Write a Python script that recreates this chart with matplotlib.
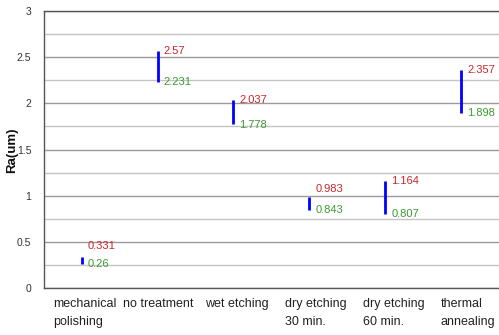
import matplotlib
matplotlib.use("Agg")
import matplotlib.pyplot as plt
from matplotlib.ticker import MultipleLocator

categories = ["mechanical\npolishing", "no treatment", "wet etching",
              "dry etching\n30 min.", "dry etching\n60 min.", "thermal\nannealing"]
low_vals = [0.26, 2.231, 1.778, 0.843, 0.807, 1.898]
high_vals = [0.331, 2.57, 2.037, 0.983, 1.164, 2.357]
y_ticks = [0, 0.5, 1, 1.5, 2, 2.5, 3]
y_tick_labels = ["0", "0.5", "1", "1.5", "2", "2.5", "3"]

# label vertical offsets (points) to avoid overlap
high_off = [8, 0, 0, 6, 0, 0]
low_off = [0, 0, -1, 0, 0, 0]
# horizontal shift of category labels (pixels)
xlab_shift = [3, 1, 3, 7, 9, 7]

plt.rcParams['font.family'] = ['Liberation Sans', 'DejaVu Sans']

fig = plt.figure(figsize=(4.99, 3.35), dpi=100)
ax = fig.add_axes([0.0876, 0.1403, 0.9124, 0.8267])

x = list(range(len(categories)))
ax.vlines(x, low_vals, high_vals, colors='#0000ff', linewidth=2.0, zorder=3)

for i in x:
    ax.annotate(str(high_vals[i]), (i, high_vals[i]), xytext=(4.3, high_off[i]),
                textcoords='offset points', color='#c8262b', fontsize=8,
                ha='left', va='center')
    ax.annotate(str(low_vals[i]), (i, low_vals[i]), xytext=(4.3, low_off[i]),
                textcoords='offset points', color='#3c9a32', fontsize=8,
                ha='left', va='center')

ax.set_xlim(-0.5, len(categories) - 0.5)
ax.set_ylim(0, 3)
ax.set_yticks(y_ticks)
ax.set_yticklabels(y_tick_labels, fontsize=7.5, color='#333333')
ax.yaxis.set_minor_locator(MultipleLocator(0.25))
ax.set_xticks(x)
ax.set_xticklabels([])
for i, (lab, s) in enumerate(zip(categories, xlab_shift)):
    ax.annotate(lab, (i, 0), xycoords=('data', 'axes fraction'),
                xytext=(s * 0.72, -7.5), textcoords='offset points',
                ha='center', va='top', multialignment='left',
                fontsize=9, color='#222222', linespacing=1.6,
                annotation_clip=False)
ax.tick_params(axis='both', which='both', length=0)
ax.tick_params(axis='y', pad=9)

ax.grid(True, which='major', axis='y', color='#9a9a9a', linewidth=1.0)
ax.grid(True, which='minor', axis='y', color='#c4c4c4', linewidth=1.0)
ax.set_axisbelow(True)

for side in ['left', 'bottom', 'top']:
    ax.spines[side].set_color('#555555')
    ax.spines[side].set_linewidth(1.0)
ax.spines['right'].set_visible(False)

fig.text(12 / 499, 1 - 150 / 335, "Ra(um)", fontsize=9.5, fontweight='bold',
         rotation=90, ha='center', va='center', color='#111111')

fig.savefig("out.png", dpi=100)
